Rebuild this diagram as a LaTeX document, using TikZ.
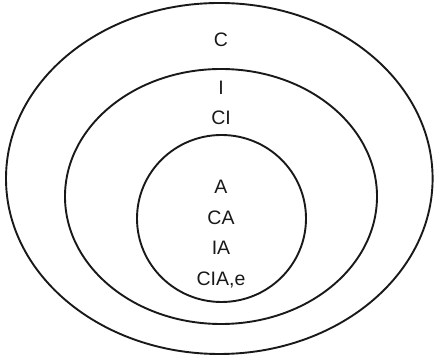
\documentclass[tikz,border=0pt]{standalone}
\usepackage{fontspec}
\setmainfont{Liberation Sans}
\begin{document}
\begin{tikzpicture}[x=1pt,y=1pt,
  ring/.style={draw=black!90,line width=1.9pt},
  lbl/.style={font=\fontsize{19.5}{22}\selectfont,inner sep=0pt,text=black!90}]
\useasboundingbox (0,0) rectangle (434,358);
% outer
\draw[ring] (219.3,179.5) ellipse [x radius=213.3, y radius=175.5];
% middle
\draw[ring] (221,161.5) ellipse [x radius=156, y radius=127.5];
% inner
\draw[ring] (221.5,139.5) ellipse [x radius=84.5, y radius=83.5];
\node[lbl] (c) at (221,318) {C};
\node[lbl] (i) at (221,270) {I};
\node[lbl] (ci) at (221,240) {CI};
\node[lbl] (a) at (221,171) {A};
\node[lbl] (ca) at (221,140) {CA};
\node[lbl] (ia) at (221,110) {IA};
\node[lbl] (cia) at (221,78) {CIA,e};
\end{tikzpicture}
\end{document}
